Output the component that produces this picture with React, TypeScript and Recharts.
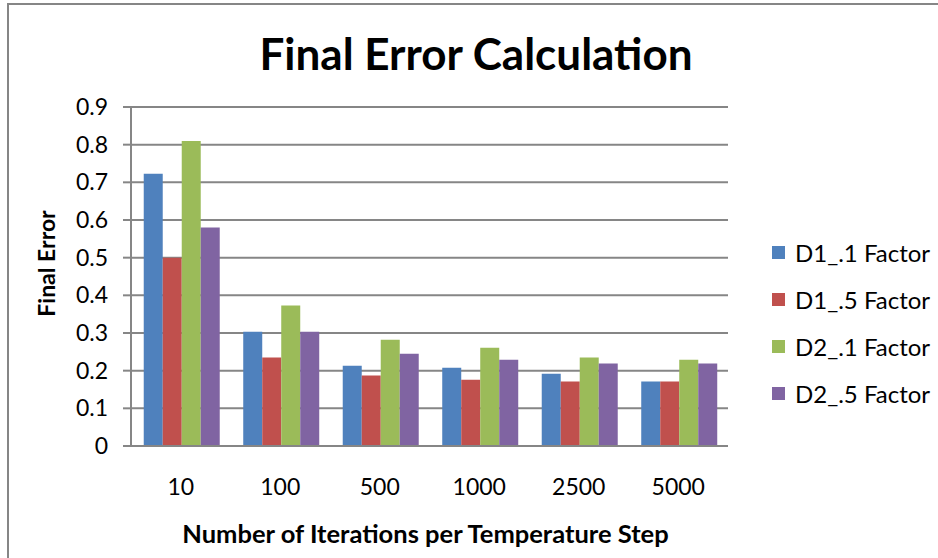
import React from 'react';
import { BarChart, Bar, XAxis, YAxis, CartesianGrid, Legend } from 'recharts';

// Iterations per temperature step (x categories)
const iterations = ['10', '100', '500', '1000', '2500', '5000'];

// Final error per configuration
const d1Factor01 = [0.723, 0.303, 0.213, 0.208, 0.192, 0.171];
const d1Factor05 = [0.5, 0.235, 0.187, 0.176, 0.171, 0.171];
const d2Factor01 = [0.81, 0.373, 0.282, 0.261, 0.235, 0.229];
const d2Factor05 = [0.58, 0.303, 0.245, 0.229, 0.219, 0.219];

const yTicks = [0, 0.1, 0.2, 0.3, 0.4, 0.5, 0.6, 0.7, 0.8, 0.9];

const seriesList = [
  { key: 'd1_01', name: 'D1_.1 Factor', color: '#4F81BD', values: d1Factor01 },
  { key: 'd1_05', name: 'D1_.5 Factor', color: '#C0504D', values: d1Factor05 },
  { key: 'd2_01', name: 'D2_.1 Factor', color: '#9BBB59', values: d2Factor01 },
  { key: 'd2_05', name: 'D2_.5 Factor', color: '#8064A2', values: d2Factor05 },
];

const data = iterations.map((it, i) => {
  const row: Record<string, string | number> = { it };
  seriesList.forEach((s) => {
    row[s.key] = s.values[i];
  });
  return row;
});

const FONT = 'Lato, "Open Sans", sans-serif';
const GRID = '#868686';
const LABEL_SIZE = 23;

const LegendBox = (props: any) => {
  const { payload } = props;
  return (
    <div style={{ fontFamily: FONT }}>
      {(payload || []).map((p: any) => (
        <div
          key={p.value}
          style={{ display: 'flex', alignItems: 'center', height: 47, fontSize: 24, color: '#000' }}
        >
          <span
            style={{ display: 'inline-block', width: 13, height: 13, background: p.color, marginRight: 10 }}
          />
          <span>{p.value}</span>
        </div>
      ))}
    </div>
  );
};

const YTitle = (props: any) => {
  const vb = props.viewBox || {};
  const cx = 46;
  const cy = vb.y + vb.height / 2 - 13;
  return (
    <text
      x={cx}
      y={cy}
      transform={`rotate(-90 ${cx} ${cy})`}
      textAnchor="middle"
      dominantBaseline="central"
      fontFamily={FONT}
      fontWeight={700}
      fontSize={LABEL_SIZE}
      fill="#000"
    >
      Final Error
    </text>
  );
};

const XTitle = (props: any) => {
  const vb = props.viewBox || {};
  return (
    <text
      x={vb.x + vb.width / 2 - 4}
      y={533}
      textAnchor="middle"
      dominantBaseline="central"
      fontFamily={FONT}
      fontWeight={700}
      fontSize={25.5}
      fill="#000"
    >
      Number of Iterations per Temperature Step
    </text>
  );
};

export default function App() {
  return (
    <div style={{ position: 'absolute', left: 0, top: 0, width: 938, height: 558, background: '#fff', overflow: 'hidden' }}>
      <div
        style={{
          position: 'absolute',
          left: 7,
          top: 3,
          width: 960,
          height: 600,
          borderLeft: `2px solid ${GRID}`,
          borderTop: `2px solid ${GRID}`,
        }}
      />
      <div
        style={{
          position: 'absolute',
          left: 0,
          top: 26,
          width: 952,
          textAlign: 'center',
          fontFamily: FONT,
          fontWeight: 700,
          fontSize: 44,
          lineHeight: '54px',
          color: '#000',
        }}
      >
        Final Error Calculation
      </div>
      <div style={{ position: 'absolute', left: 0, top: 0 }}>
        <BarChart
          width={938}
          height={558}
          data={data}
          margin={{ top: 107, right: 210, bottom: 0, left: 0 }}
          barCategoryGap="12.8%"
          barGap={0}
        >
          <CartesianGrid horizontal vertical={false} stroke={GRID} strokeWidth={2} />
          <XAxis
            dataKey="it"
            height={112}
            axisLine={{ stroke: GRID, strokeWidth: 2 }}
            tickLine={false}
            tickSize={0}
            tickMargin={33}
            tick={{ fontFamily: FONT, fontSize: LABEL_SIZE, fill: '#000' }}
            label={<XTitle />}
          />
          <YAxis
            width={131}
            domain={[0, 0.9]}
            ticks={yTicks}
            interval={0}
            axisLine={{ stroke: GRID, strokeWidth: 2 }}
            tickLine={{ stroke: GRID, strokeWidth: 2 }}
            tickSize={8}
            tickMargin={15}
            tick={{ fontFamily: FONT, fontSize: LABEL_SIZE, fill: '#000' }}
            label={<YTitle />}
          />
          <Legend
            layout="vertical"
            verticalAlign="middle"
            align="center"
            content={<LegendBox />}
            wrapperStyle={{ position: 'absolute', left: 772, top: 229, width: 170 }}
          />
          {seriesList.map((s) => (
            <Bar key={s.key} dataKey={s.key} name={s.name} fill={s.color} isAnimationActive={false} />
          ))}
        </BarChart>
      </div>
    </div>
  );
}
